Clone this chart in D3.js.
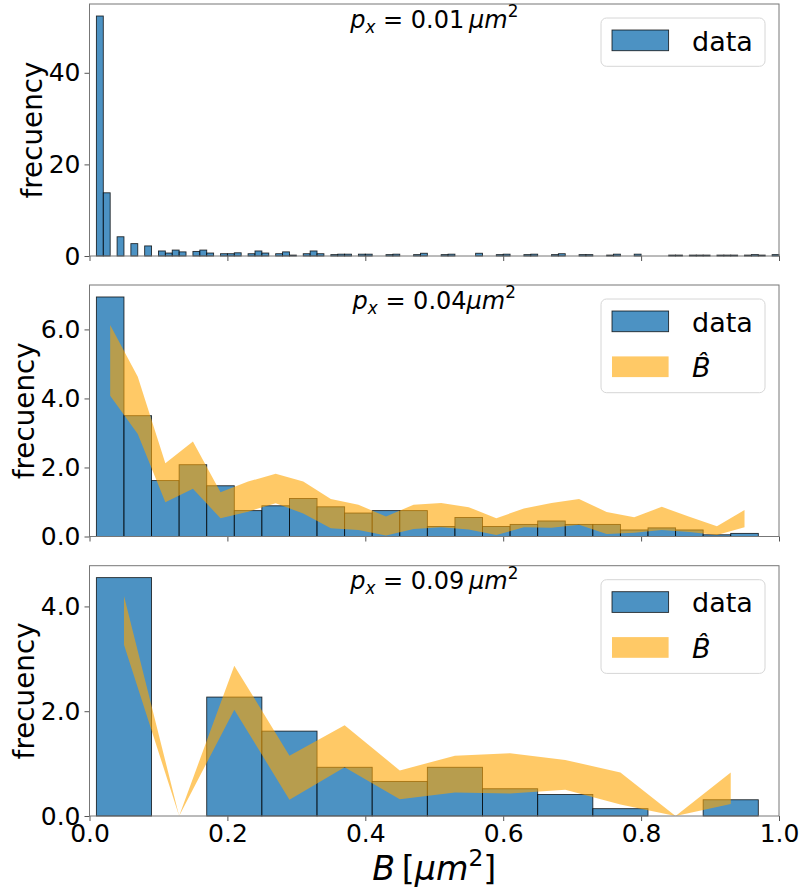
<!DOCTYPE html>
<html><head><meta charset="utf-8">
<script src="https://cdn.jsdelivr.net/npm/d3@7"></script>
<style>
body{margin:0;background:#fff}
svg{display:block}
text{font-family:"DejaVu Sans",sans-serif;fill:#000}
</style>
</head><body>
<svg id="chart" width="802" height="893"></svg>
<script>
// ---------- data ----------
const xTicks = [0.0, 0.2, 0.4, 0.6, 0.8, 1.0];

// panel 1: px = 0.01, bins of 0.01 starting at 0.01
const topBinStart = 0.01, topBinWidth = 0.01;
const topFreq = [52.4, 13.8, 0, 4.2, 0, 2.7, 0, 2.2, 0, 1.1,
  0.65, 1.3, 0.9, 0, 1.0, 1.3, 0.65, 0, 0.5, 0.5,
  0.7, 0, 0.5, 1.1, 0.65, 0, 0.5, 0.9, 0.2, 0,
  0.5, 1.1, 0.5,
  0, 0.3, 0.4, 0.4, 0, 0.4, 0.4, 0, 0, 0.3,
  0.4, 0, 0, 0.3, 0.6, 0, 0, 0.3, 0.4, 0,
  0, 0, 0.6, 0, 0, 0.3, 0.4, 0, 0, 0.3,
  0.4, 0, 0, 0.3, 0.5, 0, 0, 0.3, 0.3, 0,
  0, 0.2, 0.4, 0, 0, 0.4, 0, 0, 0, 0,
  0.2, 0.2, 0, 0.2, 0.2, 0.2, 0, 0.2, 0.2, 0.2,
  0, 0.2, 0.3, 0.2, 0, 0.3];
const topYTicks = [0, 20, 40];

// panel 2: px = 0.04, bins of 0.04 starting at 0.01
const midBinStart = 0.01, midBinWidth = 0.04;
const midFreq = [6.94, 3.50, 1.62, 2.08, 1.47, 0.75, 0.89, 1.10, 0.86, 0.68, 0.75, 0.75,
  0.29, 0.55, 0.29, 0.35, 0.45, 0.35, 0.35, 0.19, 0.25, 0.19, 0.05, 0.09];
const midUpper = [6.13, 4.63, 2.12, 2.75, 1.28, 1.59, 1.82, 1.59, 1.09, 0.92, 0.58, 0.92,
  0.97, 0.85, 0.53, 0.81, 0.97, 1.09, 0.71, 0.56, 0.86, 0.57, 0.30, 0.77];
const midLower = [4.08, 2.97, 0.99, 1.38, 0.53, 0.72, 0.96, 0.67, 0.24, 0.19, 0.03, 0.22,
  0.27, 0.20, 0.04, 0.27, 0.25, 0.34, 0.07, 0.11, 0.19, 0.13, 0.04, 0.27];
const midYTicks = [0, 2, 4, 6];

// panel 3: px = 0.09, bins of 0.08 starting at 0.01
const botBinStart = 0.01, botBinWidth = 0.08;
const botFreq  = [4.55, 0, 2.27, 1.62, 0.93, 0.66, 0.93, 0.52, 0.41, 0.14, 0, 0.31];
const botUpper = [4.20, 0, 2.87, 1.15, 1.73, 0.87, 1.15, 1.20, 1.07, 0.83, 0, 0.83];
const botLower = [3.27, 0, 2.03, 0.31, 0.93, 0.32, 0.45, 0.43, 0.50, 0.22, 0, 0.23];
const botYTicks = [0, 2, 4];

const labels = {y: "frecuency", data: "data"};

// ---------- layout ----------
const left = 89.5, right = 779;
const panelBoxes = [[4, 256], [285, 536.5], [565.7, 816]];
const BLUE = "#1f77b4", ORANGE = "#ffa500";
const tickFont = 25, labelFont = 27.8, legendFont = 27, annFont = 24, xLabelFont = 33.3;

const svg = d3.select("#chart");
const x = d3.scaleLinear().domain([0, 1]).range([left, right]);

const panels = [
  {freq: topFreq, start: topBinStart, width: topBinWidth, yTicks: topYTicks, fmt: d3.format("d"),
   ann: [["p","i"],["x","sub"],[" = 0.01","r"],["\u2009","r"],["μm","i"],["2","sup"]]},
  {freq: midFreq, start: midBinStart, width: midBinWidth, upper: midUpper, lower: midLower, yTicks: midYTicks, fmt: d3.format(".1f"),
   ann: [["p","i"],["x","sub"],[" = 0.04","r"],["μm","i"],["2","sup"]]},
  {freq: botFreq, start: botBinStart, width: botBinWidth, upper: botUpper, lower: botLower, yTicks: botYTicks, fmt: d3.format(".1f"),
   ann: [["p","i"],["x","sub"],[" = 0.09","r"],["\u2009","r"],["μm","i"],["2","sup"]], xLabels: true}
];

function mathText(g, xPos, yPos, size, parts, anchor) {
  const t = g.append("text").attr("x", xPos).attr("y", yPos)
    .attr("font-size", size).attr("text-anchor", anchor || "middle")
    .style("white-space", "pre");
  let shift = 0;
  parts.forEach(([s, st]) => {
    let target = 0, fs = size, italic = false;
    if (st === "i") italic = true;
    if (st === "sub") { target = 0.22 * size; fs = 0.7 * size; italic = true; }
    if (st === "sup") { target = -0.42 * size; fs = 0.7 * size; }
    t.append("tspan").attr("dy", target - shift).attr("font-size", fs)
      .attr("font-style", italic ? "oblique" : "normal").text(s);
    shift = target;
  });
  return t;
}

panels.forEach((p, k) => {
  const [top, bottom] = panelBoxes[k];
  const yMax = d3.max(p.freq) * 1.05;
  const y = d3.scaleLinear().domain([0, yMax]).range([bottom, top]);
  const g = svg.append("g");

  // bars
  g.append("g").selectAll("rect").data(p.freq.map((v, i) => ({x0: p.start + i * p.width, x1: p.start + (i + 1) * p.width, v})))
    .join("rect")
    .filter(d => d.v > 0)
    .attr("x", d => x(d.x0)).attr("width", d => x(d.x1) - x(d.x0))
    .attr("y", d => y(d.v)).attr("height", d => y(0) - y(d.v))
    .attr("fill", BLUE).attr("fill-opacity", 0.8)
    .attr("stroke", "#000").attr("stroke-opacity", 0.8).attr("stroke-width", 0.9);

  // band
  if (p.upper) {
    const pts = p.upper.map((u, i) => ({c: p.start + (i + 0.5) * p.width, u, l: p.lower[i]}));
    const area = d3.area().x(d => x(d.c)).y0(d => y(d.l)).y1(d => y(d.u));
    g.append("path").attr("d", area(pts)).attr("fill", ORANGE).attr("fill-opacity", 0.6);
  }

  // axes
  const ya = d3.axisLeft(y).tickValues(p.yTicks).tickFormat(p.fmt).tickSize(5).tickSizeOuter(0).tickPadding(4);
  const yg = g.append("g").attr("transform", `translate(${left},0)`).call(ya);
  const xa = d3.axisBottom(x).tickValues(xTicks).tickSize(5).tickSizeOuter(0).tickPadding(3.5)
    .tickFormat(p.xLabels ? d3.format(".1f") : () => "");
  const xg = g.append("g").attr("transform", `translate(0,${bottom})`).call(xa);
  [yg, xg].forEach(a => {
    a.select(".domain").remove();
    a.selectAll(".tick line").attr("stroke", "#555").attr("stroke-width", 1);
    a.selectAll(".tick text").attr("font-size", tickFont).attr("font-family", "DejaVu Sans").attr("fill", "#000");
  });

  // frame
  g.append("rect").attr("x", left).attr("y", top).attr("width", right - left).attr("height", bottom - top)
    .attr("fill", "none").attr("stroke", "#777").attr("stroke-width", 1);

  // y label: placed left of the widest tick label
  let minLeft = Infinity;
  yg.selectAll(".tick text").each(function () { minLeft = Math.min(minLeft, this.getBBox().x + left); });
  g.append("text").attr("transform", `translate(${minLeft - 7},${(top + bottom) / 2}) rotate(-90)`)
    .attr("text-anchor", "middle").attr("font-size", labelFont).text(labels.y);

  // annotation
  mathText(g, (left + right) / 2, top + 23.5, annFont, p.ann);

  // legend
  const entries = p.upper ? ["data", "hat"] : ["data"];
  const rowH = 45.4;
  const boxW = 164, boxH = 48.3 + (entries.length - 1) * rowH;
  const bx = right - 14 - boxW, by = top + 14;
  const lg = g.append("g");
  lg.append("rect").attr("x", bx).attr("y", by).attr("width", boxW).attr("height", boxH)
    .attr("rx", 5.5).attr("fill", "#fff").attr("fill-opacity", 0.8)
    .attr("stroke", "#d6d6d6").attr("stroke-width", 1);
  entries.forEach((e, i) => {
    const ry = by + 12 + i * rowH;
    const r = lg.append("rect").attr("x", bx + 11).attr("y", ry).attr("width", 56.6).attr("height", 20.7);
    if (e === "data") {
      r.attr("fill", BLUE).attr("fill-opacity", 0.8).attr("stroke", "#000").attr("stroke-opacity", 0.8).attr("stroke-width", 0.9);
      lg.append("text").attr("x", bx + 91).attr("y", ry + 20.7).attr("font-size", legendFont).text(labels.data);
    } else {
      r.attr("fill", ORANGE).attr("fill-opacity", 0.6);
      lg.append("text").attr("x", bx + 91).attr("y", ry + 20.7).attr("font-size", legendFont)
        .attr("font-style", "oblique").text("B\u0302");
    }
  });
});

// x label
mathText(svg, (left + right) / 2, 880, xLabelFont, [["B","i"],["\u2009[","r"],["μm","i"],["2","sup"],["]","r"]]);
</script>
</body></html>
